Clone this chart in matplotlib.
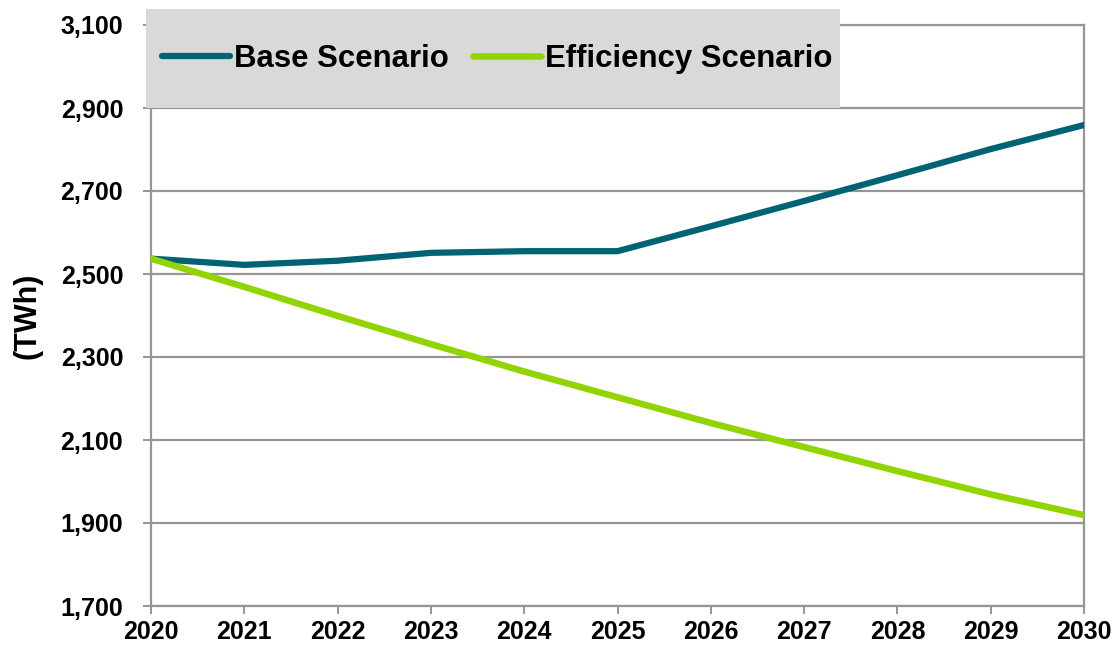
import matplotlib.pyplot as plt
from matplotlib.patches import Rectangle
from matplotlib.ticker import FuncFormatter

plt.rcParams['font.family'] = ['Liberation Sans', 'DejaVu Sans']
plt.rcParams['font.weight'] = 'bold'

years = [2020, 2021, 2022, 2023, 2024, 2025, 2026, 2027, 2028, 2029, 2030]
base = [2537, 2522, 2532, 2551, 2555, 2555, 2615, 2676, 2738, 2801, 2859]
efficiency = [2537, 2469, 2399, 2331, 2265, 2203, 2141, 2083, 2025, 1969, 1919]
yticks = [1700, 1900, 2100, 2300, 2500, 2700, 2900, 3100]

grid_col = '#969696'
base_col = '#006374'
eff_col = '#92D400'

fig = plt.figure(figsize=(11.17, 6.5), dpi=100)
ax = fig.add_axes([151 / 1117, 1 - 606 / 650, (1084 - 151) / 1117, (606 - 25) / 650])

ax.plot(years, base, color=base_col, lw=4.5, label='Base Scenario', zorder=3)
ax.plot(years, efficiency, color=eff_col, lw=4.7, label='Efficiency Scenario', zorder=3)

ax.set_xlim(2020, 2030)
ax.set_ylim(1700, 3100)
ax.set_xticks(years)
ax.set_yticks(yticks)
ax.yaxis.set_major_formatter(FuncFormatter(lambda v, p: f'{int(v):,}'))
ax.grid(axis='y', color=grid_col, lw=1.6, zorder=1)
ax.set_axisbelow(True)
for s in ax.spines.values():
    s.set_color(grid_col)
    s.set_linewidth(1.6)
ax.tick_params(axis='both', colors=grid_col, width=1.4, length=6, labelcolor='black',
               labelsize=18)
ax.tick_params(axis='y', pad=14)
ax.tick_params(axis='x', pad=4)
for t in ax.get_xticklabels() + ax.get_yticklabels():
    t.set_fontweight('bold')

fig.text(28 / 1117, 1 - 316 / 650, '(TWh)', rotation=90, ha='center', va='center',
         fontsize=22, fontweight='bold')

# grey legend box overlapping the top of the plot
fig.patches.append(Rectangle((146 / 1117, 1 - 108 / 650), (840 - 146) / 1117, 99 / 650,
                             transform=fig.transFigure, facecolor='#D9D9D9',
                             edgecolor='none', zorder=1))
leg = fig.legend(loc='center left', bbox_to_anchor=(162 / 1117, 1 - 59 / 650), ncol=2,
                 frameon=False, borderpad=0, borderaxespad=0,
                 handlelength=2.2, handletextpad=0.13, columnspacing=0.75,
                 prop={'weight': 'bold', 'size': 22.4})
for line in leg.get_lines():
    line.set_solid_capstyle('round')

fig.savefig('out.png', dpi=100)
